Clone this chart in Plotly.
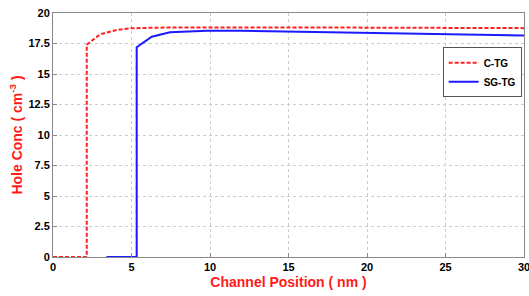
import plotly.graph_objects as go

ctg_x = [0, 2.15, 2.15, 3.0, 4.05, 4.9, 6.5, 10, 15, 20, 25, 30]
ctg_y = [0, 0, 17.4, 18.25, 18.6, 18.74, 18.8, 18.82, 18.82, 18.8, 18.78, 18.76]
sgtg_x = [3.4, 5.33, 5.33, 6.29, 7.45, 9.8, 12, 15, 20, 25, 30]
sgtg_y = [0, 0, 17.2, 18.06, 18.42, 18.55, 18.54, 18.48, 18.38, 18.25, 18.15]

x_ticks = [0, 5, 10, 15, 20, 25, 30]
y_ticks = [0, 2.5, 5, 7.5, 10, 12.5, 15, 17.5, 20]

fig = go.Figure()
fig.add_trace(go.Scatter(x=ctg_x, y=ctg_y, mode="lines", name="C-TG",
                         line=dict(color="#ff2020", width=2, dash="4px,2px")))
fig.add_trace(go.Scatter(x=sgtg_x, y=sgtg_y, mode="lines", name="SG-TG",
                         line=dict(color="#1a1aff", width=2)))

axis_common = dict(showline=True, linecolor="#888888", linewidth=1, mirror=True,
                   showgrid=True, gridcolor="#cccccc", griddash="dot", gridwidth=1,
                   zeroline=False, ticks="inside", ticklen=4, tickcolor="#888888",
                   automargin=False, ticklabeloverflow="allow",
                   tickfont=dict(family="Liberation Sans, Arial", size=11, color="black", weight="bold"))

fig.update_layout(
    width=529, height=296,
    margin=dict(l=53, r=5, t=13, b=39),
    paper_bgcolor="white", plot_bgcolor="white",
    xaxis=dict(range=[0, 30], tickvals=x_ticks, ticktext=[str(t) for t in x_ticks],
               title=dict(text="Channel Position ( nm )", standoff=4,
                          font=dict(family="Liberation Sans, Arial", size=14, color="#ff1a1a", weight="bold")),
               **axis_common),
    yaxis=dict(range=[0, 20], tickvals=y_ticks, ticktext=["0", "2.5", "5", "7.5", "10", "12.5", "15", "17.5", "20"],
               title=dict(text="Hole Conc ( cm<sup>-3</sup> )", standoff=2,
                          font=dict(family="Liberation Sans, Arial", size=14, color="#ff1a1a", weight="bold")),
               **axis_common),
    legend=dict(x=0.995, y=0.86, xanchor="right", yanchor="top",
                bgcolor="white", bordercolor="#555555", borderwidth=1,
                font=dict(family="Liberation Sans, Arial", size=10, color="black", weight="bold"),
                tracegroupgap=0, itemwidth=30),
    showlegend=True,
)

fig.write_html("out.html", config={"displayModeBar": False},
               post_script="document.body.style.margin='0';document.body.style.overflow='hidden';")
